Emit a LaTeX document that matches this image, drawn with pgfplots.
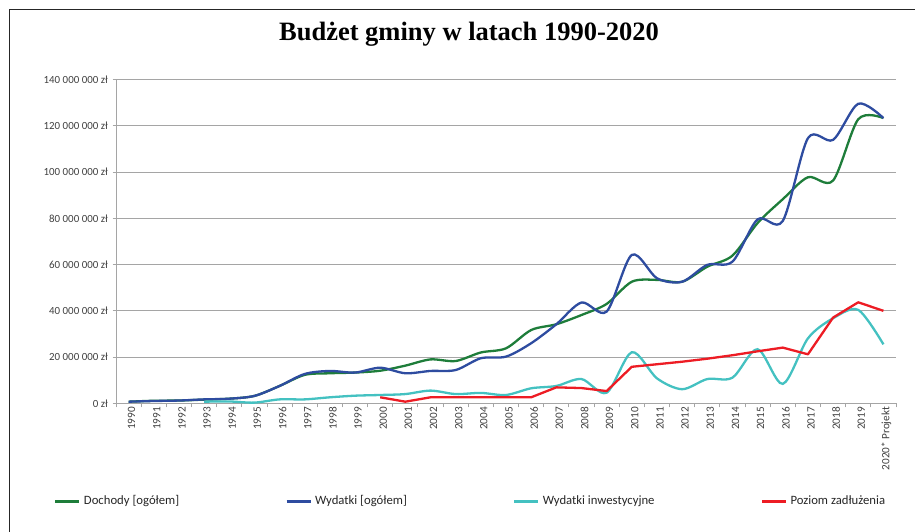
\documentclass[border=0pt]{standalone}
\usepackage{pgfplots}
\usepackage{pgfplotstable}
\pgfplotsset{compat=1.18}
\usepackage{fontspec}
\setmainfont{Carlito}
\newfontfamily\titlefont{Liberation Serif}
\definecolor{cGreen}{RGB}{30,125,58}
\definecolor{cBlue}{RGB}{46,76,160}
\definecolor{cTeal}{RGB}{68,193,193}
\definecolor{cRed}{RGB}{237,28,36}
\definecolor{cGrid}{RGB}{165,165,165}
\definecolor{cText}{RGB}{64,64,64}
\pgfplotstableread{
i doch wyd inw zad
0 0.7 0.7 nan nan
1 1.1 1.0 nan nan
2 1.2 1.2 nan nan
3 1.6 1.7 0.7 nan
4 2.0 2.0 0.8 nan
5 3.2 3.2 0.3 nan
6 7.5 7.5 1.7 nan
7 12.3 12.7 1.7 nan
8 13.0 14.0 2.6 nan
9 13.3 13.3 3.3 nan
10 14.1 15.4 3.6 2.6
11 16.3 13.0 4.0 0.7
12 19.0 14.0 5.5 2.6
13 18.3 14.4 4.0 2.6
14 22.0 19.5 4.5 2.6
15 23.8 20.2 3.6 2.6
16 31.7 26.0 6.5 2.6
17 34.2 34.2 7.5 6.9
18 38.2 43.6 10.5 6.6
19 43.0 39.7 4.6 5.3
20 52.6 64.2 22.1 15.8
21 53.4 54.1 10.8 16.9
22 52.6 52.6 6.1 18.0
23 59.1 59.9 10.5 19.3
24 63.9 61.3 11.1 20.8
25 78.0 79.6 23.4 22.5
26 88.3 78.9 8.4 24.1
27 97.8 114.7 28.1 21.2
28 96.4 114.0 36.8 37.1
29 122.9 129.6 40.4 43.7
30 123.4 123.4 25.5 40.0
}\budzet
\begin{document}
\begin{tikzpicture}
\path[use as bounding box] (0,0) rectangle (915pt,-531pt);
\draw[line width=1.3pt, color=black!85] (9.3pt,-545pt) -- (9.3pt,-9.3pt) -- (930pt,-9.3pt);
\begin{axis}[
  at={(116pt,-403.3pt)}, anchor=south west,
  scale only axis, width=780pt, height=323.6pt,
  xmin=-0.5, xmax=30.5, ymin=0, ymax=140,
  axis lines=left,
  axis line style={-, draw=cGrid, line width=1pt},
  xtick={0,...,30},
  xticklabels={1990,1991,1992,1993,1994,1995,1996,1997,1998,1999,2000,2001,2002,2003,2004,2005,2006,2007,2008,2009,2010,2011,2012,2013,2014,2015,2016,2017,2018,2019,2020* Projekt},
  minor xtick={-0.5,0.5,...,30.5},
  major x tick style={draw=none},
  minor x tick style={draw=cGrid, line width=0.9pt},
  minor tick length=4pt,
  tick align=outside,
  ytick={0,20,40,60,80,100,120,140},
  yticklabels={0 zł,20 000 000 zł,40 000 000 zł,60 000 000 zł,80 000 000 zł,100 000 000 zł,120 000 000 zł,140 000 000 zł},
  major y tick style={draw=cGrid, line width=0.9pt},
  major tick length=3.5pt,
  ymajorgrids,
  major grid style={draw=cGrid, line width=0.9pt},
  yticklabel style={font=\fontsize{10.9}{12}\selectfont, color=cText, anchor=east, inner sep=0pt, xshift=-4.5pt},
  xticklabel style={font=\fontsize{11.2}{12}\selectfont, color=cText, rotate=90, anchor=east, inner sep=0pt, yshift=-3pt},
  title={Budżet gminy w latach 1990-2020},
  title style={font=\titlefont\bfseries\fontsize{26.5}{30}\selectfont, at={(axis description cs:0.4526,1.1023)}, anchor=base, inner sep=0pt},
  legend columns=4,
  legend style={draw=none, fill=none, inner sep=0pt, outer sep=0pt,
    at={(axis description cs:-0.0795,-0.302)}, anchor=west,
    font=\fontsize{12.7}{15}\selectfont, text=black!85,
    nodes={inner sep=0pt},
    /tikz/every odd column/.append style={column sep=3pt},
    /tikz/every even column/.append style={column sep=106pt}},
  legend image code/.code={\draw[#1, line width=3pt, line cap=butt] (0pt,0pt) -- (24pt,0pt);},
  unbounded coords=jump,
]
\addplot[cGreen, line width=2.3pt, smooth, tension=0.5] table[x=i, y=doch] {\budzet};
\addlegendentry{Dochody [ogółem]}
\addplot[cBlue, line width=2.3pt, smooth, tension=0.5] table[x=i, y=wyd] {\budzet};
\addlegendentry{Wydatki [ogółem]}
\addplot[cTeal, line width=2.3pt, smooth, tension=0.5] table[x=i, y=inw] {\budzet};
\addlegendentry{Wydatki inwestycyjne}
\addplot[cRed, line width=2.3pt, line join=round] table[x=i, y=zad] {\budzet};
\addlegendentry{Poziom zadłużenia}
\end{axis}
\end{tikzpicture}
\end{document}
